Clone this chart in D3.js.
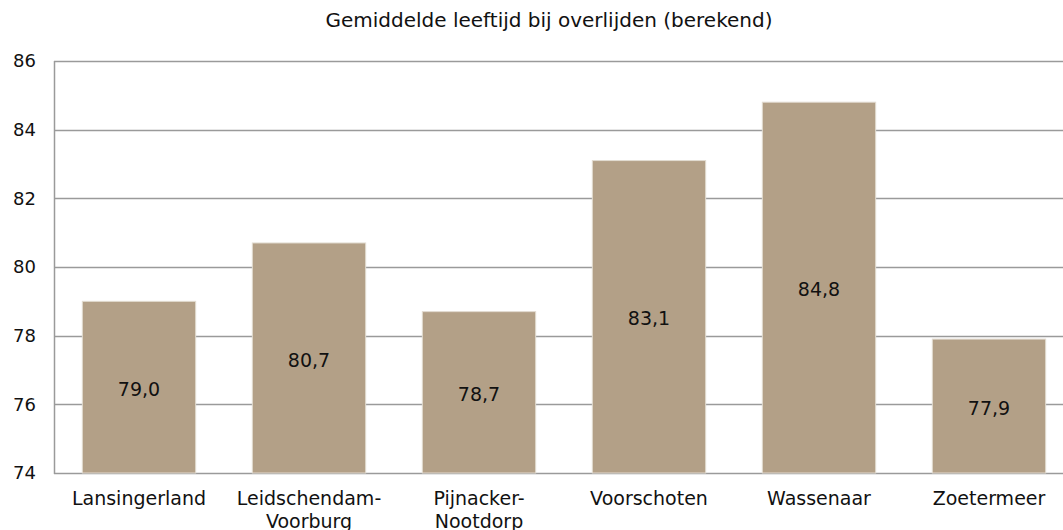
<!DOCTYPE html>
<html>
<head>
<meta charset="utf-8">
<script src="https://cdn.jsdelivr.net/npm/d3@7"></script>
<style>
  body { margin: 0; background: #fff; }
  svg { font-family: "DejaVu Sans", Verdana, sans-serif; }
</style>
</head>
<body>
<script>
// chart data
var gemeenten = ["Lansingerland", "Leidschendam-\nVoorburg", "Pijnacker-\nNootdorp", "Voorschoten", "Wassenaar", "Zoetermeer"];
var leeftijd = [79.0, 80.7, 78.7, 83.1, 84.8, 77.9];
var yTicks = [74, 76, 78, 80, 82, 84, 86];
var titel = "Gemiddelde leeftijd bij overlijden (berekend)";

var width = 1063, height = 530;
var plotLeft = 54, plotTop = 61, plotBottom = 473, plotRight = 1074;

var svg = d3.select("body").append("svg")
  .attr("width", width)
  .attr("height", height);

var x = d3.scaleBand()
  .domain(gemeenten)
  .range([plotLeft, plotRight])
  .paddingInner(1 / 3)
  .paddingOuter(1 / 6);

var y = d3.scaleLinear()
  .domain([74, 86])
  .range([plotBottom, plotTop]);

// gridlines
svg.append("g").selectAll("line")
  .data(yTicks)
  .enter().append("line")
  .attr("x1", plotLeft).attr("x2", plotRight)
  .attr("y1", function(d) { return Math.round(y(d)) + 0.5 })
  .attr("y2", function(d) { return Math.round(y(d)) + 0.5 })
  .attr("stroke", "#9a9a9a")
  .attr("stroke-width", 1.5);

svg.append("line")
  .attr("x1", plotLeft + 0.5).attr("x2", plotLeft + 0.5)
  .attr("y1", plotTop).attr("y2", plotBottom + 1)
  .attr("stroke", "#9a9a9a")
  .attr("stroke-width", 1.5);

// y tick labels
svg.append("g").selectAll("text")
  .data(yTicks)
  .enter().append("text")
  .attr("x", 36)
  .attr("y", function(d) { return y(d) })
  .attr("dy", "0.35em")
  .attr("text-anchor", "end")
  .style("font-size", "18px")
  .attr("fill", "#111")
  .text(function(d) { return d });

// bars
svg.append("g").selectAll("rect")
  .data(leeftijd)
  .enter().append("rect")
  .attr("x", function(d, i) { return x(gemeenten[i]) })
  .attr("y", function(d) { return y(d) })
  .attr("width", x.bandwidth())
  .attr("height", function(d) { return y(74) - y(d) })
  .attr("fill", "#b3a087")
  .attr("stroke", "#e2dbd0")
  .attr("stroke-width", 1);

// value labels
svg.append("g").selectAll("text")
  .data(leeftijd)
  .enter().append("text")
  .attr("x", function(d, i) { return x(gemeenten[i]) + x.bandwidth() / 2 })
  .attr("y", function(d) { return (y(d) + y(74)) / 2 + 2 })
  .attr("dy", "0.35em")
  .attr("text-anchor", "middle")
  .style("font-size", "19px")
  .attr("fill", "#111")
  .text(function(d) { return d3.format(".1f")(d).replace(".", ",") });

// category labels
var cat = svg.append("g").selectAll("text")
  .data(gemeenten)
  .enter().append("text")
  .attr("x", function(d) { return x(d) + x.bandwidth() / 2 })
  .attr("y", 505)
  .attr("text-anchor", "middle")
  .style("font-size", "19px")
  .attr("fill", "#111");

cat.selectAll("tspan")
  .data(function(d) { return d.split("\n") })
  .enter().append("tspan")
  .attr("x", function() { return d3.select(this.parentNode).attr("x") })
  .attr("dy", function(d, i) { return i == 0 ? 0 : 23 })
  .text(function(d) { return d });

// title
svg.append("text")
  .attr("x", 549)
  .attr("y", 27)
  .attr("text-anchor", "middle")
  .style("font-size", "20px")
  .attr("fill", "#111")
  .text(titel);
</script>
</body>
</html>
